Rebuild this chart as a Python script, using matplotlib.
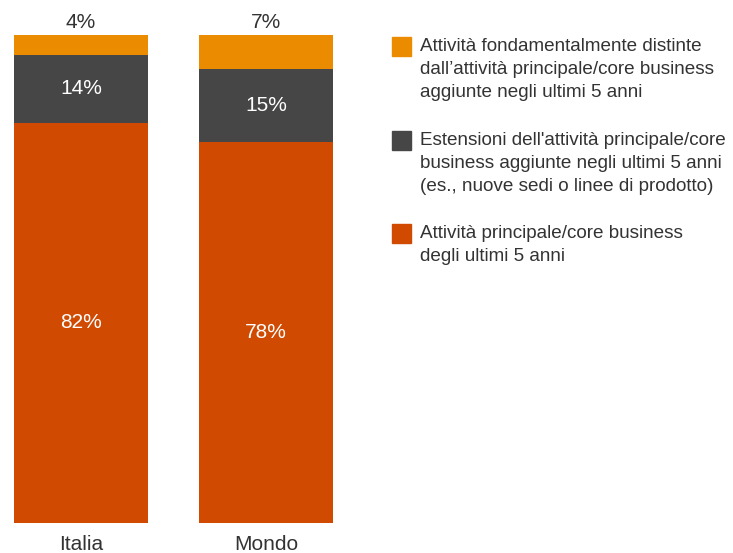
import matplotlib
matplotlib.use('Agg')
import matplotlib.pyplot as plt
from matplotlib.patches import Rectangle

plt.rcParams['font.family'] = ['Liberation Sans', 'DejaVu Sans']

# Data
regions = ['Italia', 'Mondo']
core = [82, 78]
extensions = [14, 15]
distinct = [4, 7]

series_labels = [
    'Attività fondamentalmente distinte\ndall\u2019attività principale/core business\naggiunte negli ultimi 5 anni',
    "Estensioni dell'attività principale/core\nbusiness aggiunte negli ultimi 5 anni\n(es., nuove sedi o linee di prodotto)",
    'Attività principale/core business\ndegli ultimi 5 anni',
]
colors = ['#EB8C00', '#464646', '#D04A02']

W, H = 733, 553
fig = plt.figure(figsize=(W / 100, H / 100), dpi=100)

# Axes placed in pixel terms: bars span x 14..333, y 35..523
bar_w = 0.724
ax = fig.add_axes([14 / W, (H - 523) / H, (333 - 14) / W, 488 / H])
x = range(len(regions))

ax.bar(x, core, width=bar_w, color=colors[2])
ax.bar(x, extensions, width=bar_w, bottom=core, color=colors[1])
bottoms = [c + e for c, e in zip(core, extensions)]
ax.bar(x, distinct, width=bar_w, bottom=bottoms, color=colors[0])

ax.set_xlim(-bar_w / 2, 1 + bar_w / 2)
ax.set_ylim(0, 100)
ax.axis('off')

for i in x:
    ax.text(i, core[i] / 2, f'{core[i]}%', ha='center', va='center',
            color='white', fontsize=15)
    ax.text(i, core[i] + extensions[i] / 2, f'{extensions[i]}%', ha='center',
            va='center', color='white', fontsize=15)
    ax.text(i, 100 + 2.6, f'{distinct[i]}%', ha='center', va='center',
            color='#333333', fontsize=15)
    ax.text(i, -5.6, regions[i], ha='center', va='baseline',
            color='#333333', fontsize=15)

# Legend drawn by hand on the figure
sq = 19
legend_tops = [37, 131, 224]
for top, col, lab in zip(legend_tops, colors, series_labels):
    fig.patches.append(Rectangle((392 / W, (H - top - sq) / H), sq / W, sq / H,
                                 transform=fig.transFigure, color=col))
    fig.text(420 / W, (H - top - 1) / H, lab, ha='left', va='top',
             fontsize=13.6, color='#333333', linespacing=1.48)

fig.savefig('out.png', dpi=100)
